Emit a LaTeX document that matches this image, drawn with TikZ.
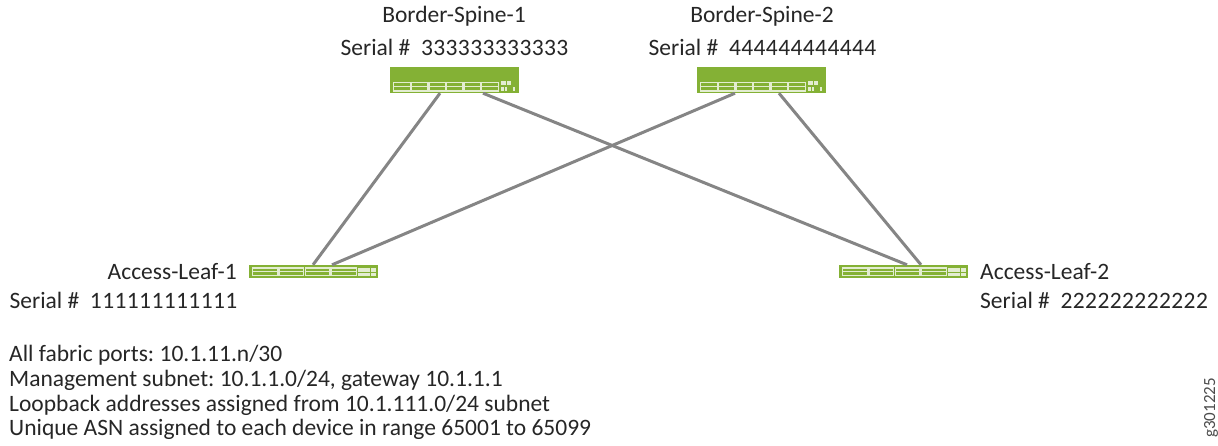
\documentclass[tikz,border=0pt]{standalone}
\usepackage{fontspec}
\setmainfont{Carlito}
\frenchspacing
\definecolor{devgreen}{HTML}{84B135}
\definecolor{linkgray}{HTML}{858585}
\definecolor{portline}{HTML}{E3EDD1}
\tikzset{
  spinebox/.style={fill=devgreen,draw=none,inner sep=0pt,minimum width=129pt,minimum height=26pt},
  leafbox/.style={fill=devgreen,draw=none,inner sep=0pt,minimum width=129pt,minimum height=13pt},
  link/.style={draw=linkgray,line width=3pt},
  port/.style={draw=portline,line width=1.1pt},
  lbl/.style={inner sep=0pt,font=\fontsize{23.5pt}{26pt}\selectfont,text=black!85}
}
\newcommand{\serialno}[1]{{\addfontfeatures{LetterSpace=1.7}#1}}
\newcommand{\spineports}[1]{
  \foreach \i in {0,...,5} {
    \draw[port] ([shift={(4+17.6*\i,16)}]#1.north west) rectangle ([shift={(4+17.6*\i+16.4,24.2)}]#1.north west);
    \draw[port] ([shift={(4+17.6*\i,20.1)}]#1.north west) -- ([shift={(4+17.6*\i+16.4,20.1)}]#1.north west);
  }
  \fill[portline] ([shift={(111,14)}]#1.north west) rectangle ([shift={(116.5,18)}]#1.north west);
  \fill[portline] ([shift={(117.5,14)}]#1.north west) rectangle ([shift={(121.5,18)}]#1.north west);
  \fill[portline] ([shift={(111,20.3)}]#1.north west) rectangle ([shift={(114,24)}]#1.north west);
  \fill[portline] ([shift={(115,20.3)}]#1.north west) rectangle ([shift={(117,24)}]#1.north west);
  \fill[portline] ([shift={(123,20.5)}]#1.north west) rectangle ([shift={(125,24)}]#1.north west);
}
\newcommand{\leafports}[1]{
  \foreach \i in {0,...,3} {
    \draw[port] ([shift={(4+26.2*\i,3.2)}]#1.north west) rectangle ([shift={(4+26.2*\i+24.8,11)}]#1.north west);
    \draw[port] ([shift={(4+26.2*\i,7.1)}]#1.north west) -- ([shift={(4+26.2*\i+24.8,7.1)}]#1.north west);
  }
  \foreach \i in {0,1,2} {
    \fill[portline] ([shift={(109.5+6.1*\i,3)}]#1.north west) rectangle ([shift={(114.9+6.1*\i,6.8)}]#1.north west);
    \fill[portline] ([shift={(109.5+6.1*\i,7.8)}]#1.north west) rectangle ([shift={(114.9+6.1*\i,11.6)}]#1.north west);
  }
}
\begin{document}
\begin{tikzpicture}[x=1pt,y=-1pt]
\useasboundingbox (0,0) rectangle (1218,445);

\node[spinebox] (spine1) at (454.5,80) {};
\node[spinebox] (spine2) at (761.5,80) {};
\node[leafbox] (leaf1) at (313.5,271.5) {};
\node[leafbox] (leaf2) at (903.5,271.5) {};

\path[link] ([xshift=-14.5pt]spine1.south) -- ([xshift=-0.5pt]leaf1.north);
\path[link] ([xshift=28.5pt]spine1.south) -- ([xshift=3.5pt]leaf2.north);
\path[link] ([xshift=-26.5pt]spine2.south) -- ([xshift=18.5pt]leaf1.north);
\path[link] ([xshift=17.5pt]spine2.south) -- ([xshift=17.5pt]leaf2.north);

\spineports{spine1}
\spineports{spine2}
\leafports{leaf1}
\leafports{leaf2}

\node[lbl,anchor=base] (name1) at (454,22) {Border-Spine-1};
\node[lbl,anchor=base] (serial1) at (454.5,55) {Serial \#\ \ \serialno{333333333333}};
\node[lbl,anchor=base] (name2) at (762,22) {Border-Spine-2};
\node[lbl,anchor=base] (serial2) at (762.5,55) {Serial \#\ \ \serialno{444444444444}};
\node[lbl,anchor=base east] (name3) at (237,279) {Access-Leaf-1};
\node[lbl,anchor=base east] (serial3) at (237.5,308) {Serial \#\ \ \serialno{111111111111}};
\node[lbl,anchor=base west] (name4) at (980,279) {Access-Leaf-2};
\node[lbl,anchor=base west] (serial4) at (980,308) {Serial \#\ \ \serialno{222222222222}};

\node[lbl,anchor=base west] (note1) at (9,361) {All fabric ports: 10.1.11.n/30};
\node[lbl,anchor=base west] (note2) at (9,386) {Management subnet: 10.1.1.0/24, gateway 10.1.1.1};
\node[lbl,anchor=base west] (note3) at (9,411) {Loopback addresses assigned from 10.1.111.0/24 subnet};
\node[lbl,anchor=base west] (note4) at (9,435) {Unique ASN assigned to each device in range 65001 to 65099};

\node[inner sep=0pt,anchor=base west,rotate=90,font=\fontsize{17pt}{19pt}\selectfont,text=black!70] (figno) at (1215,438) {g301225};
\end{tikzpicture}
\end{document}
